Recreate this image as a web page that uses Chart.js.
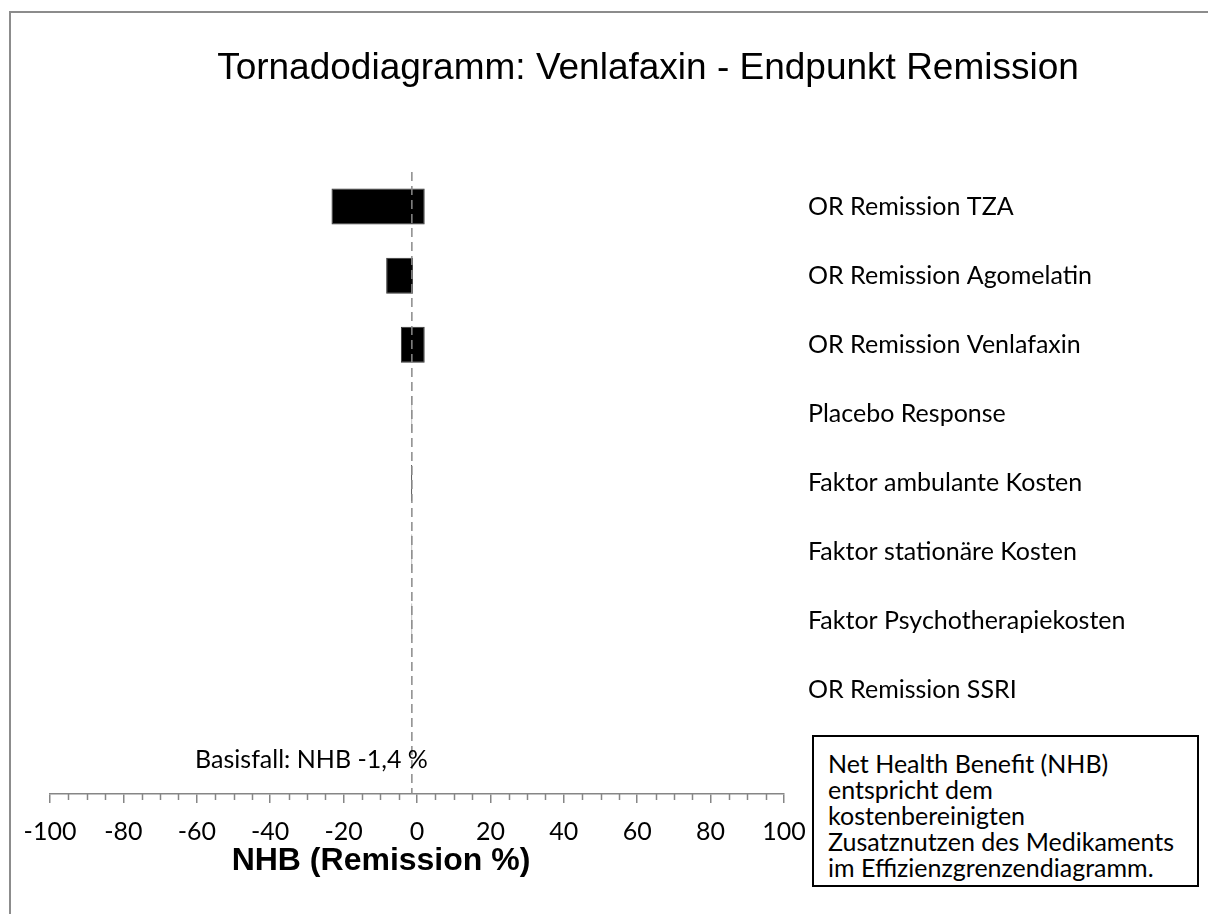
<!DOCTYPE html>
<html>
<head>
<meta charset="utf-8">
<script src="https://cdn.jsdelivr.net/npm/chart.js@4.4.0/dist/chart.umd.min.js"></script>
<style>
    html, body { margin: 0; padding: 0; background: #fff; overflow: hidden; }
    #wrap { position: relative; width: 1208px; height: 914px; }
    #frame { position: absolute; left: 9px; top: 11px; width: 1300px; height: 1000px; border: 2px solid #8c8c8c; }
    #chart { position: absolute; left: 0; top: 0; }
    #note {
        position: absolute; left: 812px; top: 735px; width: 367px; height: 130px;
        border: 2px solid #000; background: #fff; padding: 13px 2px 5px 14px;
        font: 25px Lato, sans-serif; line-height: 26px; color: #000; white-space: nowrap;
    }
</style>
</head>
<body>
<div id="wrap">
    <div id="frame"></div>
    <canvas id="chart" width="1208" height="914"></canvas>
    <div id="note"></div>
</div>
<script>
// Parameters (last row left empty for the base-case label)
const categories = [
    'OR Remission TZA',
    'OR Remission Agomelatin',
    'OR Remission Venlafaxin',
    'Placebo Response',
    'Faktor ambulante Kosten',
    'Faktor stationäre Kosten',
    'Faktor Psychotherapiekosten',
    'OR Remission SSRI',
    ''
];
const lowValues = [-23.3, -8.4, -4.4, -1.5, -1.6, -1.5, -1.5, -1.4, null];
const highValues = [2.1, -1.1, 2.1, -1.3, -1.3, -1.3, -1.3, -1.4, null];
const baseValue = -1.4;
const xMin = -100;
const xMax = 100;
const majorStep = 20;
const minorStep = 5;

const chartTitle = 'Tornadodiagramm: Venlafaxin - Endpunkt Remission';
const axisTitle = 'NHB (Remission %)';
const baseLabel = 'Basisfall: NHB -1,4 %';
const noteLines = [
    'Net Health Benefit (NHB)',
    'entspricht dem',
    'kostenbereinigten',
    'Zusatznutzen des Medikaments',
    'im Effizienzgrenzendiagramm.'
];

document.getElementById('note').innerHTML = noteLines.join('<br>');

const labelFont = 'Lato, sans-serif';
const arialFont = '"Liberation Sans", Arial, sans-serif';
const axisGray = '#868686';

// Minor ticks, base-case line and free-standing labels
const decorPlugin = {
    id: 'decor',
    afterDatasetsDraw(chart) {
        const ctx = chart.ctx;
        const x = chart.scales.x;
        const area = chart.chartArea;

        ctx.save();
        ctx.strokeStyle = axisGray;
        ctx.lineWidth = 1.5;
        for (let v = xMin; v <= xMax; v += minorStep) {
            if (v % majorStep === 0) continue;
            const px = Math.round(x.getPixelForValue(v)) + 0.5;
            ctx.beginPath();
            ctx.moveTo(px, x.top);
            ctx.lineTo(px, x.top + 6);
            ctx.stroke();
        }

        const bx = x.getPixelForValue(baseValue);
        ctx.strokeStyle = '#8a8a8a';
        ctx.lineWidth = 1.5;
        ctx.setLineDash([9, 5]);
        ctx.beginPath();
        ctx.moveTo(bx, area.top);
        ctx.lineTo(bx, area.bottom);
        ctx.stroke();
        ctx.setLineDash([]);

        ctx.fillStyle = '#000';
        ctx.font = '25px ' + labelFont;
        ctx.textAlign = 'right';
        ctx.textBaseline = 'middle';
        ctx.fillText(baseLabel, bx + 16, 760);

        ctx.font = '37px ' + arialFont;
        ctx.textAlign = 'center';
        ctx.fillText(chartTitle, 648, 69);

        ctx.font = 'bold 32px ' + arialFont;
        ctx.fillText(axisTitle, 381, 861);
        ctx.restore();
    }
};

new Chart(document.getElementById('chart'), {
    type: 'bar',
    data: {
        labels: categories,
        datasets: [{
            data: categories.map((c, i) => lowValues[i] === null ? null : [lowValues[i], highValues[i]]),
            backgroundColor: '#000',
            borderColor: '#333',
            borderWidth: 1,
            borderSkipped: false,
            barPercentage: 0.52,
            categoryPercentage: 1
        }]
    },
    options: {
        indexAxis: 'y',
        responsive: false,
        animation: false,
        layout: { padding: { left: 50, top: 172, right: 0, bottom: 0 } },
        plugins: {
            legend: { display: false },
            tooltip: { enabled: false }
        },
        scales: {
            x: {
                position: 'bottom',
                min: xMin,
                max: xMax,
                afterFit: s => { s.height = 120; },
                grid: { drawOnChartArea: false, color: axisGray, lineWidth: 1.5, tickLength: 9 },
                border: { color: axisGray, width: 1.5 },
                ticks: {
                    stepSize: majorStep,
                    color: '#000',
                    padding: 14,
                    maxRotation: 0,
                    font: { family: labelFont, size: 25 }
                }
            },
            y: {
                position: 'right',
                afterFit: s => { s.width = 424; },
                grid: { display: false, drawTicks: false },
                border: { display: false },
                ticks: {
                    color: '#000',
                    padding: 24,
                    autoSkip: false,
                    crossAlign: 'near',
                    font: { family: labelFont, size: 25 }
                }
            }
        }
    },
    plugins: [decorPlugin]
});
</script>
</body>
</html>
